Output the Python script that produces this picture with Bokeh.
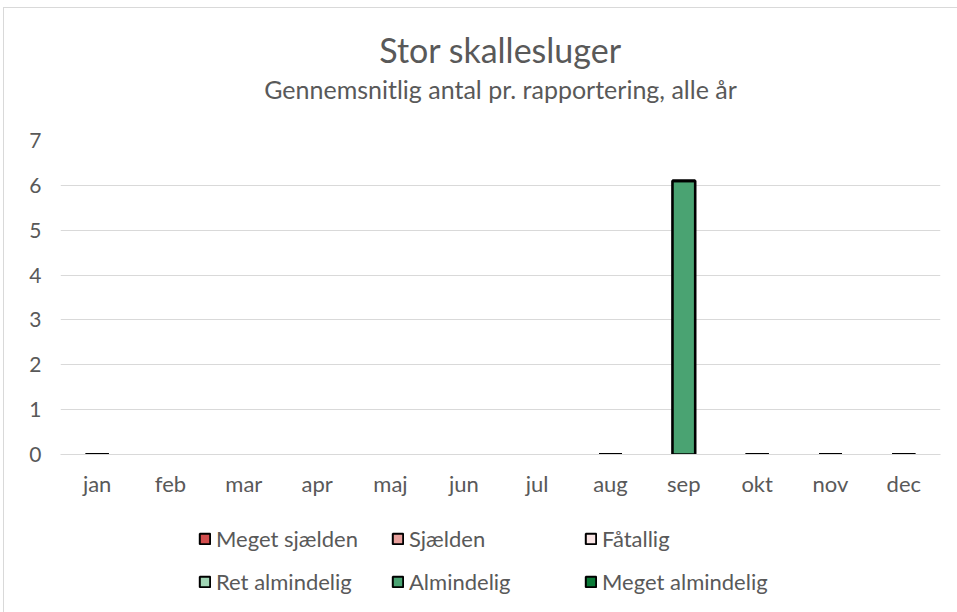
import numpy as np
from bokeh.plotting import figure
from bokeh.layouts import column
from bokeh.models import Range1d, FixedTicker, Title, Legend, LegendItem, ColumnDataSource
from bokeh.embed import file_html
from bokeh.resources import INLINE

nan = np.nan
months = ["jan", "feb", "mar", "apr", "maj", "jun", "jul", "aug", "sep", "okt", "nov", "dec"]
series = ["Meget sjælden", "Sjælden", "Fåtallig", "Ret almindelig", "Almindelig", "Meget almindelig"]
colors = ["#d24d4d", "#e8a09c", "#fbe6e6", "#a0d5b5", "#4aa372", "#0a7a37"]

# feb-jul: no reports (nothing drawn); jan, aug, okt, nov, dec: 0
meget_sjaelden = [0, nan, nan, nan, nan, nan, nan, 0, 0, 0, 0, 0]
sjaelden = [0, nan, nan, nan, nan, nan, nan, 0, 0, 0, 0, 0]
faatallig = [0, nan, nan, nan, nan, nan, nan, 0, 0, 0, 0, 0]
ret_almindelig = [0, nan, nan, nan, nan, nan, nan, 0, 0, 0, 0, 0]
almindelig = [0, nan, nan, nan, nan, nan, nan, 0, 6.1, 0, 0, 0]
meget_almindelig = [0, nan, nan, nan, nan, nan, nan, 0, 0, 0, 0, 0]

FONT = "Lato"
GREY = "#595959"
COLS = ["s0", "s1", "s2", "s3", "s4", "s5"]

src = ColumnDataSource(dict(month=months,
                            s0=np.array(meget_sjaelden, dtype=float),
                            s1=np.array(sjaelden, dtype=float),
                            s2=np.array(faatallig, dtype=float),
                            s3=np.array(ret_almindelig, dtype=float),
                            s4=np.array(almindelig, dtype=float),
                            s5=np.array(meget_almindelig, dtype=float)))

p = figure(x_range=months, y_range=Range1d(0, 7), width=954, height=500,
           output_backend="svg", toolbar_location=None,
           min_border_left=56, min_border_right=18, min_border_top=132, min_border_bottom=54)

p.vbar_stack(COLS, x="month", width=0.31, source=src, fill_color=colors,
             line_color="black", line_width=2.6)

p.title.text = ""
p.title.text_font_size = "1px"
p.title.standoff = 0
# spacer closest to the frame, then subtitle, then main title
p.add_layout(Title(text=" ", text_font_size="1px", standoff=34), "above")
p.add_layout(Title(text="Gennemsnitlig antal pr. rapportering, alle år", align="center",
                   text_font=FONT, text_font_size="25px", text_color=GREY,
                   text_font_style="normal", standoff=0), "above")
p.add_layout(Title(text="Stor skallesluger", align="center", text_font=FONT,
                   text_font_size="34px", text_color=GREY, text_font_style="normal",
                   standoff=4), "above")

p.yaxis.ticker = FixedTicker(ticks=list(range(0, 8)))
p.yaxis.axis_line_color = None
p.yaxis.major_tick_line_color = None
p.yaxis.minor_tick_line_color = None
p.yaxis.major_label_text_font = FONT
p.yaxis.major_label_text_font_size = "21px"
p.yaxis.major_label_text_color = GREY
p.yaxis.major_label_standoff = 13

p.xaxis.axis_line_color = "#d9d9d9"
p.xaxis.major_tick_line_color = None
p.xaxis.minor_tick_line_color = None
p.xaxis.major_label_text_font = FONT
p.xaxis.major_label_text_font_size = "22px"
p.xaxis.major_label_text_color = GREY
p.xaxis.major_label_standoff = 9

p.xgrid.grid_line_color = None
p.ygrid.grid_line_color = "#d9d9d9"
p.ygrid.grid_line_width = 1
p.outline_line_color = None
p.x_range.range_padding = 0

# legend panel below the chart: same series drawn outside its visible y-range
leg = figure(width=954, height=105, x_range=months, y_range=Range1d(100, 101),
             output_backend="svg", toolbar_location=None,
             min_border_left=0, min_border_right=0, min_border_top=0, min_border_bottom=0)
leg.axis.visible = False
leg.xgrid.grid_line_color = None
leg.ygrid.grid_line_color = None
leg.outline_line_color = None
leg_renderers = leg.vbar_stack(COLS, x="month", width=0.31, source=src, fill_color=colors,
                               line_color="black", line_width=2)
items = [LegendItem(label=s, renderers=[r]) for s, r in zip(series, leg_renderers)]
legend = Legend(items=items, orientation="horizontal", ncols=3, location=(138, 14),
                label_text_font=FONT, label_text_font_size="22px", label_text_color=GREY,
                glyph_width=13, glyph_height=13, label_width=167, label_height=35,
                spacing=8, label_standoff=5, border_line_color=None,
                background_fill_alpha=0, margin=0, padding=0)
leg.add_layout(legend, "center")

layout = column(p, leg, spacing=0,
                styles={"border": "1px solid #d9d9d9", "margin-left": "3px", "margin-top": "7px"})

open("out.html", "w").write(file_html(layout, INLINE))
